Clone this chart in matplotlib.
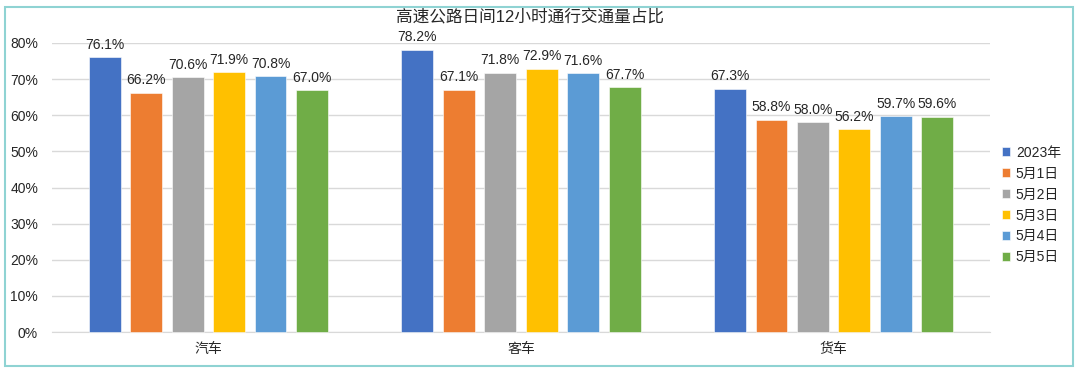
import matplotlib
matplotlib.use("Agg")
import matplotlib.pyplot as plt
from matplotlib.patches import Rectangle
import numpy as np

plt.rcParams['font.family'] = ['Liberation Sans', 'Noto Sans CJK SC', 'DejaVu Sans']

title = "高速公路日间12小时通行交通量占比"
categories = ["汽车", "客车", "货车"]
series_names = ["2023年", "5月1日", "5月2日", "5月3日", "5月4日", "5月5日"]
v2023 = [76.1, 78.2, 67.3]
v0501 = [66.2, 67.1, 58.8]
v0502 = [70.6, 71.8, 58.0]
v0503 = [71.9, 72.9, 56.2]
v0504 = [70.8, 71.6, 59.7]
v0505 = [67.0, 67.7, 59.6]
series_values = [v2023, v0501, v0502, v0503, v0504, v0505]
colors = ["#4472C4", "#ED7D31", "#A5A5A5", "#FFC000", "#5B9BD5", "#70AD47"]
yticks = [0, 10, 20, 30, 40, 50, 60, 70, 80]

fig = plt.figure(figsize=(10.8, 3.71), dpi=100)
ax = fig.add_axes([52/1080, 1-332/371, (990-52)/1080, (332-43)/371])

x = np.arange(len(categories))
step = 0.1326
width = 0.102
n = len(series_names)
for i, (name, vals, c) in enumerate(zip(series_names, series_values, colors)):
    pos = x + (i - (n-1)/2) * step
    ax.bar(pos, vals, width, color=c, label=name, zorder=3,
           edgecolor='white', linewidth=0.4, clip_on=False)
    for p, v in zip(pos, vals):
        ax.text(p, v + 1.5, f"{v:.1f}%", ha='center', va='bottom',
                fontsize=10, color='#262626', clip_on=False, zorder=4)

ax.set_xlim(-0.5, 2.5)
ax.set_ylim(0, 80)
ax.set_yticks(yticks)
ax.set_yticklabels([f"{t}%" for t in yticks], fontsize=10, color='#262626')
ax.set_xticks(x)
ax.set_xticklabels(categories, fontsize=10, color='#262626')
ax.tick_params(axis='both', length=0)
ax.tick_params(axis='y', pad=10)
ax.tick_params(axis='x', pad=7)
ax.grid(axis='y', color='#d9d9d9', linewidth=1, zorder=0)
for s in ['top', 'right', 'left']:
    ax.spines[s].set_visible(False)
ax.spines['bottom'].set_color('#d9d9d9')

fig.text(530/1080, 1-17/371, title, ha='center', va='center', fontsize=12, color='#262626')

leg = fig.legend(loc='center left', bbox_to_anchor=(995/1080, 1-205/371),
                 frameon=False, fontsize=10, handlelength=0.6, handleheight=0.6,
                 handletextpad=0.4, labelspacing=0.5, borderpad=0)
for t in leg.get_texts():
    t.set_color('#262626')

fig.patches.append(Rectangle((5/1080, 1-366/371), (1073-5)/1080, (366-7)/371,
                             transform=fig.transFigure, fill=False,
                             edgecolor='#8fd3d3', linewidth=1.5))

fig.savefig("out.png", dpi=100)
